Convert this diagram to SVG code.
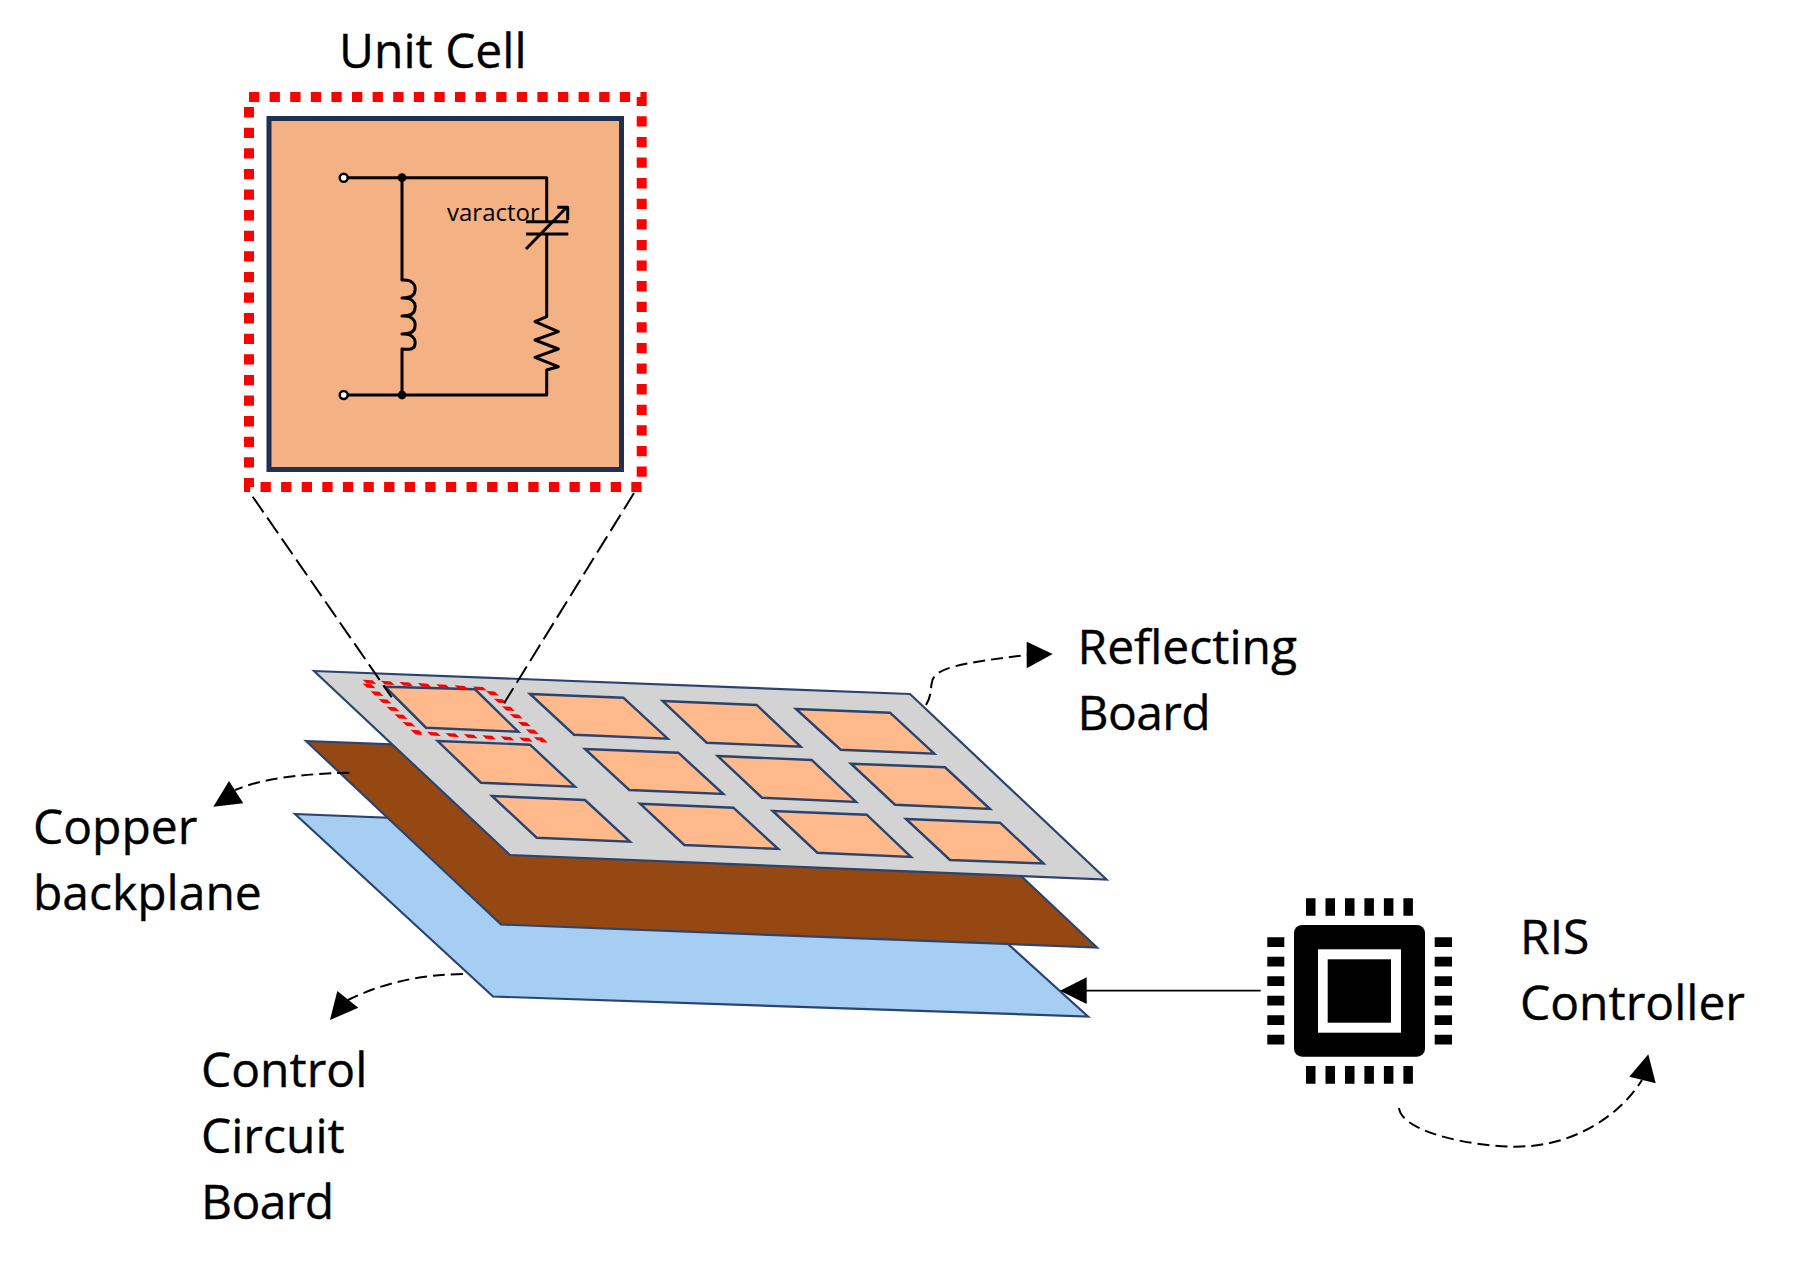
<svg xmlns="http://www.w3.org/2000/svg" width="1810" height="1269" viewBox="0 0 1810 1269">
<style>
.t{font-family:"Open Sans","Noto Sans",sans-serif;font-size:48px;fill:#000;stroke:#000;stroke-width:.35}
.b{stroke:#2A4470;stroke-width:2.2;stroke-linejoin:miter}
.tile{fill:#FFB98A;stroke:#2A4470;stroke-width:2.4}
.w{fill:none;stroke:#000;stroke-width:3;stroke-linejoin:round}
.d{fill:none;stroke:#000;stroke-width:2;stroke-dasharray:12 6}
.z{fill:none;stroke:#000;stroke-width:2;stroke-dasharray:19 6.5}
.h{fill:#000}
.p{fill:#000}
</style>
<rect width="1810" height="1269" fill="#fff"/>
<g id="control-board"><polygon class="b" fill="#A6CDF2" points="295,814 891,838 1088,1016.5 493,996.5"/></g>
<g id="copper-backplane"><polygon class="b" fill="#964812" points="306,741 902,764 1097,947.5 501,924.5"/></g>
<g id="reflecting-board">
<polygon class="b" fill="#D3D3D3" points="314,671 910,694 1106.5,879.5 510,855"/>
<polygon class="tile" points="385,686.7 475,689.3 518.3,731.7 426,727.7"/>
<polygon class="tile" points="530,694 623.3,697.7 667.7,738.7 574,734.7"/>
<polygon class="tile" points="662.7,701 756.7,705 800.7,746.7 706.7,742.7"/>
<polygon class="tile" points="796,709 890,712.7 934.3,753.7 840.7,749.7"/>
<polygon class="tile" points="437.7,741 530,744.7 575,786.7 481,782.7"/>
<polygon class="tile" points="585,749 678.3,752.7 723.3,794 629.3,790"/>
<polygon class="tile" points="717.7,756 811.7,760 856,802 762,797.7"/>
<polygon class="tile" points="851,763.7 945,767.3 990,809 895,804.7"/>
<polygon class="tile" points="492,796 585,800 630,841.7 536.7,837.7"/>
<polygon class="tile" points="640,803.7 733.3,807.7 778.3,849 684.3,845"/>
<polygon class="tile" points="772.7,811 866.7,814.7 911,857 817.3,852.7"/>
<polygon class="tile" points="906,819 1000,822.7 1043.5,863.5 950,860"/>
<rect x="0" y="0" width="100" height="100" fill="none" stroke="#F00" stroke-width="7" stroke-dasharray="8 6.9" transform="matrix(1.235 .075 .535 .515 364.5 681.5)"/>
</g>
<g id="unit-cell">
<path d="M249,97H641.7V487H249Z" fill="none" stroke="#F00" stroke-width="10" stroke-dasharray="10.3 10.3"/>
<rect x="269" y="118.5" width="352.5" height="351" fill="#F4B183" stroke="#1F3050" stroke-width="5"/>
<path class="w" d="M347.7,177.7H546.7V221.7M546.7,234V316.7L535,321.7 558.3,331.7 535,340 558.3,349 535,357.3 558.3,366.7 546.7,370V395H347.7M402,177.7V280C412,279 416,285 415,290 415,296 410,298 402,298 412,297 416,303 415,308 415,314 410,316 402,316 412,315 416,321 415,326 415,332 410,334 402,334 412,333 416,339 415,344 415,349 410,350 402,349V395M526,221.7H568.3M526,234H568.3M526,249L566.7,207.3M557.3,207.3H567.7V220"/>
<circle cx="343.7" cy="177.7" r="4" fill="#fff" stroke="#000" stroke-width="2.4"/>
<circle cx="343.7" cy="395" r="4" fill="#fff" stroke="#000" stroke-width="2.4"/>
<circle cx="402" cy="177.7" r="4.4"/>
<circle cx="402" cy="395" r="4.4"/>
<text x="447" y="221" style="font-family:'Open Sans','Noto Sans',sans-serif;font-size:24px">varactor</text>
</g>
<g id="connectors">
<path class="z" d="M252.7,496.7L391.7,697.3"/>
<path class="z" d="M634,493L504,703.3"/>
<path class="d" d="M926,705C932,695 930,690 932,682 934,668 960,663 1027,655"/>
<polygon class="h" points="1052.7,654 1026.7,641.7 1026.7,668.3"/>
<path class="d" d="M349.3,772.7C300,774 265,778 235,790"/>
<polygon class="h" points="229,781 213.3,806.7 243.3,803.3"/>
<path class="d" d="M463,974C420,975 385,982 348,1000"/>
<polygon class="h" points="330,1020 337.3,991 358.3,1007.7"/>
<path class="d" d="M1399,1108C1402,1135 1490,1150 1530,1146 1578,1142 1620,1115 1642,1080"/>
<polygon class="h" points="1648.3,1054.3 1629.3,1076.7 1655.7,1083.3"/>
<path d="M1260.7,990.7H1086" fill="none" stroke="#000" stroke-width="1.8"/>
<polygon class="h" points="1060,990.7 1086.7,977.3 1086.7,1004"/>
</g>
<g id="chip">
<rect x="1294" y="925" width="131" height="131.7" rx="8"/>
<rect x="1318" y="949.3" width="83" height="83.4" fill="#fff"/>
<rect x="1327.7" y="959.3" width="63.3" height="63.4"/>
<path class="p" d="M1306,898.3h9.5v17.4h-9.5zM1325.5,898.3h9.5v17.4h-9.5zM1345,898.3h9.5v17.4h-9.5zM1364.4,898.3h9.5v17.4h-9.5zM1383.9,898.3h9.5v17.4h-9.5zM1403.4,898.3h9.5v17.4h-9.5z"/>
<path class="p" d="M1306,1066h9.5v17.7h-9.5zM1325.5,1066h9.5v17.7h-9.5zM1345,1066h9.5v17.7h-9.5zM1364.4,1066h9.5v17.7h-9.5zM1383.9,1066h9.5v17.7h-9.5zM1403.4,1066h9.5v17.7h-9.5z"/>
<path class="p" d="M1267.3,937.3h17v9.8h-17zM1267.3,956.8h17v9.8h-17zM1267.3,976.2h17v9.8h-17zM1267.3,995.7h17v9.8h-17zM1267.3,1015.2h17v9.8h-17zM1267.3,1034.7h17v9.8h-17z"/>
<path class="p" d="M1434.7,937.3h17.3v9.8h-17.3zM1434.7,956.8h17.3v9.8h-17.3zM1434.7,976.2h17.3v9.8h-17.3zM1434.7,995.7h17.3v9.8h-17.3zM1434.7,1015.2h17.3v9.8h-17.3zM1434.7,1034.7h17.3v9.8h-17.3z"/>
</g>
<g id="labels">
<text class="t" x="339" y="67.5">Unit Cell</text>
<text class="t" x="1077.5" y="664">Reflecting</text>
<text class="t" x="1077.5" y="730" letter-spacing="-.6">Board</text>
<text class="t" x="33" y="844">Copper</text>
<text class="t" x="33" y="910">backplane</text>
<text class="t" x="201" y="1086.5">Control</text>
<text class="t" x="201" y="1152.5">Circuit</text>
<text class="t" x="201" y="1218.5" letter-spacing="-.6">Board</text>
<text class="t" x="1520" y="954">RIS</text>
<text class="t" x="1520" y="1020">Controller</text>
</g>
</svg>
